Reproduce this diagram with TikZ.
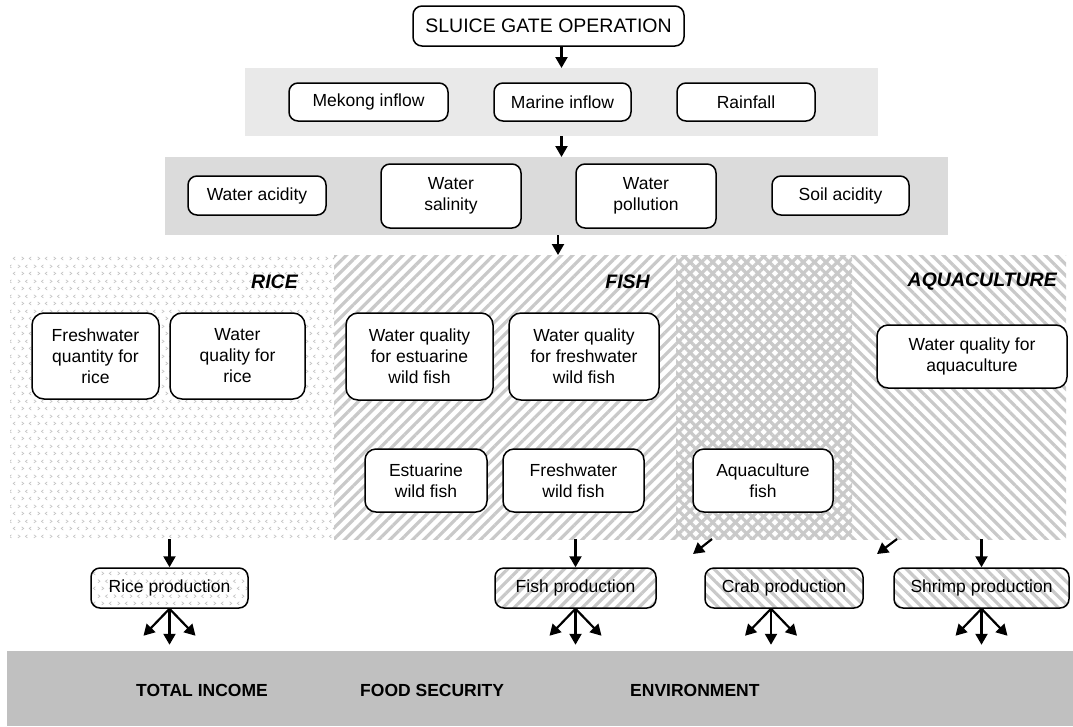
\documentclass[tikz,border=0pt]{standalone}
\usepackage{fontspec}
\setmainfont{Liberation Sans}
\usetikzlibrary{patterns.meta,arrows.meta}
\pgfdeclarepattern{
  name=chev, type=uncolored,
  bottom left={\pgfpoint{0pt}{0pt}}, top right={\pgfpoint{16pt}{15pt}},
  tile size={\pgfpoint{16pt}{15pt}},
  code={
    \pgfsetlinewidth{0.7pt}
    \pgfpathmoveto{\pgfpoint{2pt}{13pt}}\pgfpathlineto{\pgfpoint{4.2pt}{11.3pt}}\pgfpathlineto{\pgfpoint{2pt}{9.6pt}}
    \pgfpathmoveto{\pgfpoint{12.2pt}{13pt}}\pgfpathlineto{\pgfpoint{10pt}{11.3pt}}\pgfpathlineto{\pgfpoint{12.2pt}{9.6pt}}
    \pgfpathmoveto{\pgfpoint{6pt}{5.5pt}}\pgfpathlineto{\pgfpoint{8.2pt}{3.8pt}}\pgfpathlineto{\pgfpoint{6pt}{2.1pt}}
    \pgfpathmoveto{\pgfpoint{16.2pt}{5.5pt}}\pgfpathlineto{\pgfpoint{14pt}{3.8pt}}\pgfpathlineto{\pgfpoint{16.2pt}{2.1pt}}
    \pgfusepath{stroke}
  }
}
\definecolor{bandA}{gray}{0.915}
\definecolor{bandB}{gray}{0.86}
\definecolor{bandC}{gray}{0.753}
\definecolor{stripe}{gray}{0.79}
\definecolor{chevc}{gray}{0.77}
\newcommand\mkbox[7][]{\node[box,#1,minimum width={(#5-#3)*1pt},minimum height={(#6-#4)*1pt}] (#2) at ({(#3+#5)/2},{(#4+#6)/2}) {#7};}
\newcommand\mkregion[6][]{\node[region,#1,minimum width={(#5-#3)*1pt},minimum height={(#6-#4)*1pt}] (#2) at ({(#3+#5)/2},{(#4+#6)/2}) {};}
\begin{document}
\begin{tikzpicture}[x=1pt,y=-1pt,
  box/.style={draw,line width=1.5pt,rounded corners=9pt,fill=white,align=center,
    font=\fontsize{17.5}{21}\selectfont,inner sep=0pt},
  region/.style={draw=none,inner sep=0pt,outer sep=0pt},
  ne/.style={pattern={Lines[angle=45,distance=8pt,line width=3.2pt]},pattern color=stripe},
  nw/.style={pattern={Lines[angle=-45,distance=8pt,line width=3.2pt]},pattern color=stripe},
  chevs/.style={pattern=chev,pattern color=chevc},
  lab/.style={font=\fontsize{19.5}{22}\selectfont\bfseries\itshape,anchor=east,inner sep=0pt},
  big/.style={font=\fontsize{17.5}{21}\selectfont\bfseries,anchor=west,inner sep=0pt},
  arr/.style={line width=2.2pt,-{Triangle[length=11pt,width=12pt]}}
]
\useasboundingbox (0,0) rectangle (1073,726);
\fill[white] (0,0) rectangle (1073,726);

% top
\mkbox[font=\fontsize{19.5}{22}\selectfont]{sluice}{413}{6}{684}{46}{SLUICE GATE OPERATION}

\mkregion[fill=bandA]{bandone}{245}{68}{878}{136}
\mkbox{mekong}{289}{83}{448}{121}{Mekong inflow}
\mkbox{marine}{494}{83}{631}{121}{Marine inflow}
\mkbox{rain}{677}{83}{815}{121}{Rainfall}

\mkregion[fill=bandB]{bandtwo}{165}{157}{948}{235}
\mkbox{wacid}{188}{176}{326}{215}{Water acidity}
\mkbox{wsal}{381}{164}{521}{228}{Water\\salinity}
\mkbox{wpol}{576}{164}{716}{228}{Water\\pollution}
\mkbox{sacid}{772}{176}{909}{215}{Soil acidity}

% patterned regions
\mkregion[chevs]{rice}{10}{255}{334}{539}
\mkregion[ne]{fish}{334}{255}{676}{539}
\mkregion[ne,postaction={nw}]{cross}{676}{255}{852}{539}
\mkregion[nw]{aqua}{852}{255}{1066}{539}

\node[lab] (ricelab) at (298,282) {RICE};
\node[lab] (fishlab) at (650,282) {FISH};
\node[lab] (aqualab) at (1057,282) {AQUACULTURE};

\mkbox[rounded corners=12pt]{fwq}{32}{313}{159}{399}{Freshwater\\quantity for\\rice}
\mkbox[rounded corners=12pt]{wqr}{170}{313}{305}{399}{Water\\quality for\\rice}
\mkbox[rounded corners=12pt]{wqe}{346}{313}{493}{400}{Water quality\\for estuarine\\wild fish}
\mkbox[rounded corners=12pt]{wqf}{509}{313}{659}{400}{Water quality\\for freshwater\\wild fish}
\mkbox[rounded corners=11pt]{ewf}{365}{449}{487}{512}{Estuarine\\wild fish}
\mkbox[rounded corners=11pt]{fwf}{503}{449}{644}{512}{Freshwater\\wild fish}
\mkbox[rounded corners=11pt]{aqf}{693}{449}{833}{512}{Aquaculture\\fish}
\mkbox[rounded corners=11pt]{wqa}{877}{325}{1067}{388}{Water quality for\\aquaculture}

% production
\mkbox[chevs,preaction={fill=white}]{riceprod}{91}{568}{248}{608}{Rice production}
\mkbox[ne,preaction={fill=white}]{fishprod}{495}{568}{656}{608}{Fish production}
\mkbox[nw,preaction={fill=white}]{crabprod}{705}{568}{863}{608}{Crab production}
\mkbox[nw,preaction={fill=white}]{shrimpprod}{894}{568}{1069}{608}{Shrimp production}

% bottom band
\mkregion[fill=bandC]{bottom}{7}{651}{1073}{726}
\node[big] (income) at (136,690) {TOTAL INCOME};
\node[big] (food) at (360,690) {FOOD SECURITY};
\node[big] (env) at (630,690) {ENVIRONMENT};

% arrows
\draw[arr] ([xshift=13pt]sluice.south) -- ([xshift=13pt]sluice.south |- bandone.north);
\draw[arr] (bandone.south) -- (bandone.south |- bandtwo.north);
\draw[arr] ([xshift=1.5pt]bandtwo.south) -- ([xshift=1.5pt]bandtwo.south |- fish.north);
\draw[arr] (riceprod.north |- rice.south) -- (riceprod.north);
\draw[arr] (fishprod.north |- fish.south) -- (fishprod.north);
\draw[arr] (shrimpprod.north |- aqua.south) -- (shrimpprod.north);
\coordinate (d1s) at ([xshift=36pt]cross.south west);
\coordinate (d1e) at ([xshift=17pt,yshift=-15pt]cross.south west);
\draw[arr] (d1s) -- (d1e);
\coordinate (d2s) at ([xshift=45pt]aqua.south west);
\coordinate (d2e) at ([xshift=25pt,yshift=-15pt]aqua.south west);
\draw[arr] (d2s) -- (d2e);

\foreach \n/\dx in {riceprod/0,fishprod/0,crabprod/-13,shrimpprod/0}{
  \coordinate (\n-o) at ([xshift=\dx pt]\n.south);
  \draw[arr] (\n-o) -- ++(0,36);
  \draw[arr] (\n-o) -- ++(-26,27);
  \draw[arr] (\n-o) -- ++(26,27);
}
\end{tikzpicture}
\end{document}
